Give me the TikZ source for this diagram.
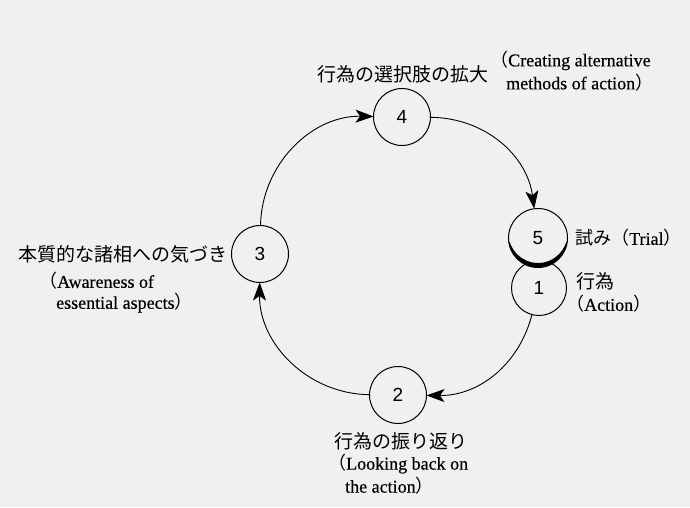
\documentclass[tikz,border=0pt]{standalone}
\usepackage{fontspec}
\setmainfont[FakeBold=0.4]{Liberation Serif}
\newfontfamily\jpfont{Noto Sans CJK JP}
\newfontfamily\numfont{Liberation Sans}
\usetikzlibrary{arrows.meta,calc}
\definecolor{bgc}{RGB}{240,240,240}
\newcommand\J[1]{{\jpfont #1}}
\tikzset{
  stagecirc/.style={circle, draw=black, line width=1pt, minimum size=57pt, inner sep=0pt, outer sep=0pt, fill=bgc, font=\numfont\fontsize{19}{19}\selectfont},
  conn/.style={line width=0.9pt, -{Stealth[length=18pt,width=13pt,inset=4.5pt]}},
  jplabel/.style={inner sep=0pt, font=\jpfont\fontsize{19}{23}\selectfont},
  enlabel/.style={inner sep=0pt, font=\fontsize{18}{23}\selectfont}
}
\begin{document}
\begin{tikzpicture}[x=1pt,y=1pt]
\fill[bgc] (0,0) rectangle (690,507);
\useasboundingbox (0,0) rectangle (690,507);
% stage circles
\node[stagecirc, minimum size=55pt] (n1) at (539,219) {1};
\node[stagecirc, minimum size=59pt] (n5) at (538,269) {5};
\node[stagecirc] (n4) at (402,390) {4};
\node[stagecirc] (n3) at (260,253) {3};
\node[stagecirc] (n2) at (398,112) {2};
% thick lower rim of 5
\coordinate (n5up) at ($(n5.center)+(0,4.5)$);
\begin{scope}
  \clip (n5.center) ++(-40,-4) rectangle ++(80,-40);
  \fill[even odd rule] (n5.center) circle[radius=29.5pt] (n5up) circle[radius=29.5pt];
\end{scope}
% cycle arcs
\draw[conn] (n4) to[bend left=41] (n5);
\draw[conn] (n1) to[bend left=38] (n2);
\draw[conn] (n2) to[bend left=45] (n3);
\draw[conn] (n3) to[bend left=45] (n4);
% labels
\node[jplabel] (t4) at (403,433) {行為の選択肢の拡大};
\node[enlabel, anchor=west, align=left] (e4) at (490,436) {\J{（}Creating alternative\\\hspace*{16pt}methods of action\J{）}};
\node[jplabel] (t3) at (123,253) {本質的な諸相への気づき};
\node[enlabel, anchor=west] (e3a) at (39,226) {\J{（}Awareness of};
\node[enlabel, anchor=west] (e3b) at (56,204) {essential aspects\J{）}};
\node[enlabel, anchor=west] (t5) at (575,269) {\J{試み（}Trial\J{）}};
\node[jplabel, anchor=west] (t1) at (576,226) {行為};
\node[enlabel, anchor=west] (e1) at (566,203) {\J{（}Action\J{）}};
\node[jplabel] (t2) at (401,66) {行為の振り返り};
\node[enlabel, anchor=north west, align=left] (e2) at (328,53) {\J{（}Looking back on\\\hspace*{17pt}the action\J{）}};
\end{tikzpicture}
\end{document}
